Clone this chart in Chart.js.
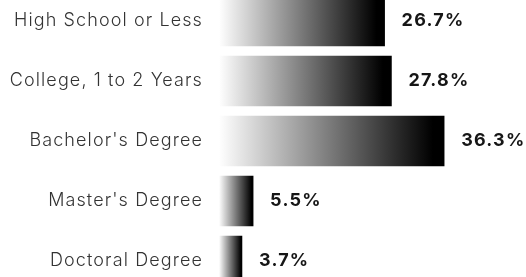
<!DOCTYPE html>
<html>
<head>
<meta charset="utf-8">
<script src="https://cdn.jsdelivr.net/npm/chart.js@4.4.1/dist/chart.umd.min.js"></script>
<style>
  html, body { margin: 0; padding: 0; background: #fff; overflow: hidden; width: 526px; height: 277px; }
  #wrap { position: absolute; left: 0; top: -9px; width: 526px; height: 300px; }
  #c { width: 526px; height: 300px; display: block; }
</style>
</head>
<body>
<div id="wrap"><canvas id="c" width="526" height="300"></canvas></div>
<script>
const categories = ["High School or Less", "College, 1 to 2 Years", "Bachelor's Degree", "Master's Degree", "Doctoral Degree"];
const values = [26.7, 27.8, 36.3, 5.5, 3.7];
const valueLabels = ["26.7%", "27.8%", "36.3%", "5.5%", "3.7%"];

function barGradient(ctx) {
  const chart = ctx.chart;
  const area = chart.chartArea;
  if (!area || ctx.dataIndex === undefined) return '#888';
  const xs = chart.scales.x;
  const x0 = xs.getPixelForValue(0);
  const x1 = xs.getPixelForValue(values[ctx.dataIndex]);
  const g = chart.ctx.createLinearGradient(x0, 0, x1, 0);
  g.addColorStop(0, '#ffffff');
  g.addColorStop(0.95, '#000000');
  g.addColorStop(1, '#000000');
  return g;
}

const spacingPlugin = {
  id: 'spacing',
  beforeDraw(chart) { chart.ctx.letterSpacing = '1.1px'; },
  afterDraw(chart) { chart.ctx.letterSpacing = '0px'; }
};

const valuePlugin = {
  id: 'valueLabels',
  afterDatasetsDraw(chart) {
    const c = chart.ctx;
    const meta = chart.getDatasetMeta(0);
    c.save();
    c.letterSpacing = '1.2px';
    c.font = '700 18px Inter, sans-serif';
    c.fillStyle = '#161616';
    c.textAlign = 'left';
    c.textBaseline = 'middle';
    meta.data.forEach((bar, i) => {
      c.fillText(valueLabels[i], bar.x + 17, bar.y);
    });
    c.restore();
  }
};

new Chart(document.getElementById('c'), {
  type: 'bar',
  data: {
    labels: categories,
    datasets: [{
      data: values,
      backgroundColor: barGradient,
      borderWidth: 0,
      barThickness: 50
    }]
  },
  options: {
    indexAxis: 'y',
    responsive: false,
    maintainAspectRatio: false,
    animation: false,
    layout: { padding: 0 },
    plugins: { legend: { display: false }, tooltip: { enabled: false } },
    scales: {
      x: {
        display: false,
        min: 0,
        max: 49.5
      },
      y: {
        grid: { display: false, drawTicks: false },
        border: { display: false },
        ticks: {
          padding: 16,
          color: '#333333',
          font: { family: 'Inter', size: 18, weight: '300' }
        },
        afterFit(scale) {
          scale.width = 219;
          scale.paddingTop = 0;
          scale.paddingBottom = 0;
        }
      }
    }
  },
  plugins: [spacingPlugin, valuePlugin]
});
</script>
</body>
</html>
